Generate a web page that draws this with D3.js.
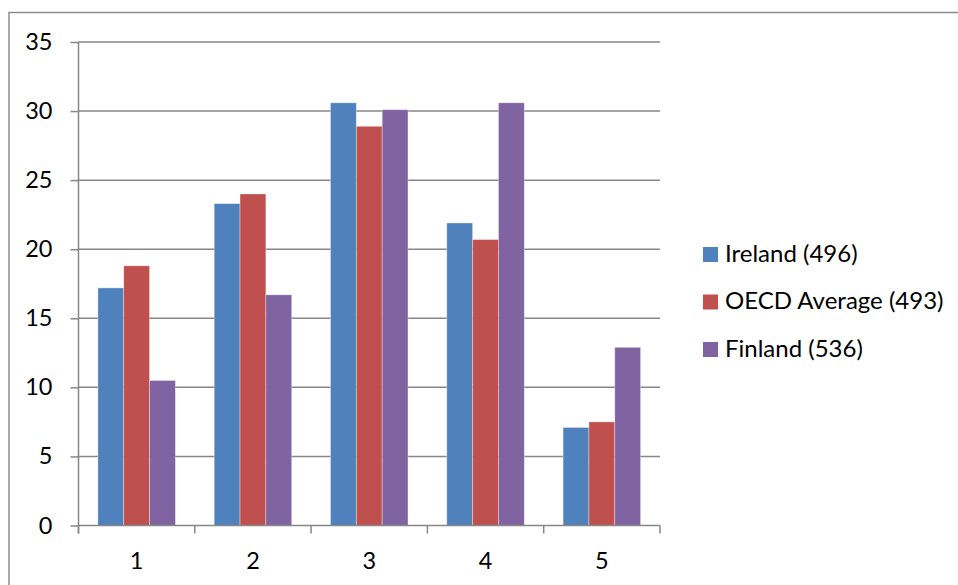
<!DOCTYPE html>
<html>
<head>
<meta charset="utf-8">
<script src="https://cdn.jsdelivr.net/npm/d3@7"></script>
<style>
  html, body { margin: 0; padding: 0; background: #fff; }
  svg { display: block; }
  text { font-family: Lato, "Open Sans", sans-serif; fill: #000; }
</style>
</head>
<body>
<svg id="chart" width="958" height="585"></svg>
<script>
const categories = ["1", "2", "3", "4", "5"];
const seriesNames = ["Ireland (496)", "OECD Average (493)", "Finland (536)"];
const ireland = [17.2, 23.3, 30.6, 21.9, 7.1];
const oecd = [18.8, 24.0, 28.9, 20.7, 7.5];
const finland = [10.5, 16.7, 30.1, 30.6, 12.9];
const colors = ["#4F81BD", "#C0504D", "#8064A2"];
const yTicks = [0, 5, 10, 15, 20, 25, 30, 35];

const seriesValues = [ireland, oecd, finland];

const svg = d3.select("#chart");
const plotLeft = 78.5, plotRight = 660, plotTop = 42, plotBottom = 525.5;

// outer border (top and left)
svg.append("path")
  .attr("d", `M9,585 L9,12.5 L958,12.5`)
  .attr("fill", "none").attr("stroke", "#8c8c8c").attr("stroke-width", 1.5);

const x0 = d3.scaleBand().domain(categories).range([plotLeft, plotRight]).padding(0);
const x1 = d3.scaleBand().domain(d3.range(seriesNames.length))
  .range([0, x0.bandwidth()]).paddingInner(0).paddingOuter(0.75);
const y = d3.scaleLinear().domain([0, 35]).range([plotBottom, plotTop]);

// gridlines
svg.append("g").selectAll("line").data(yTicks.filter(d => d > 0)).join("line")
  .attr("x1", plotLeft).attr("x2", plotRight)
  .attr("y1", d => y(d)).attr("y2", d => y(d))
  .attr("stroke", "#878787").attr("stroke-width", 1.5);

// bars
const groups = svg.append("g").selectAll("g").data(categories).join("g")
  .attr("transform", d => `translate(${x0(d)},0)`);
groups.selectAll("rect")
  .data((c, ci) => seriesValues.map((vals, si) => ({ si, v: vals[ci] })))
  .join("rect")
  .attr("x", d => x1(d.si))
  .attr("width", x1.bandwidth())
  .attr("y", d => y(d.v))
  .attr("height", d => y(0) - y(d.v))
  .attr("fill", d => colors[d.si])
  .attr("stroke", "rgba(255,255,255,0.45)")
  .attr("stroke-width", 0.8);

// y axis
const yAxis = d3.axisLeft(y).tickValues(yTicks).tickSize(8).tickPadding(18).tickFormat(d3.format("d"));
const gy = svg.append("g").attr("transform", `translate(${plotLeft},0)`).call(yAxis);
gy.select(".domain").attr("stroke", "#878787").attr("stroke-width", 1.5).attr("d", `M0,${plotBottom + 8}V${plotTop}`);
gy.selectAll(".tick line").attr("stroke", "#878787").attr("stroke-width", 1.5);
gy.selectAll(".tick text").attr("font-size", 23.5).attr("font-family", "Lato").attr("fill", "#000");

// x axis
const xAxis = d3.axisBottom(x0).tickSize(0).tickPadding(0);
const gx = svg.append("g").attr("transform", `translate(0,${plotBottom})`).call(xAxis);
gx.select(".domain").attr("stroke", "#878787").attr("stroke-width", 1.5).attr("d", `M${plotLeft},0H${plotRight}`);
gx.selectAll(".tick text").attr("font-size", 23.5).attr("font-family", "Lato").attr("fill", "#000")
  .attr("dy", null).attr("y", 43);
// category boundary ticks
const boundaries = categories.map(c => x0(c)).concat([plotRight]);
gx.append("g").selectAll("line").data(boundaries).join("line")
  .attr("x1", d => d).attr("x2", d => d).attr("y1", 0).attr("y2", 8)
  .attr("stroke", "#878787").attr("stroke-width", 1.5);

// legend
const legend = svg.append("g").selectAll("g").data(seriesNames).join("g")
  .attr("transform", (d, i) => `translate(703,${247 + i * 47.5})`);
legend.append("rect").attr("width", 15).attr("height", 15)
  .attr("fill", (d, i) => colors[i]);
legend.append("text").attr("x", 22).attr("y", 14.5)
  .attr("font-size", 24).text(d => d);
</script>
</body>
</html>
